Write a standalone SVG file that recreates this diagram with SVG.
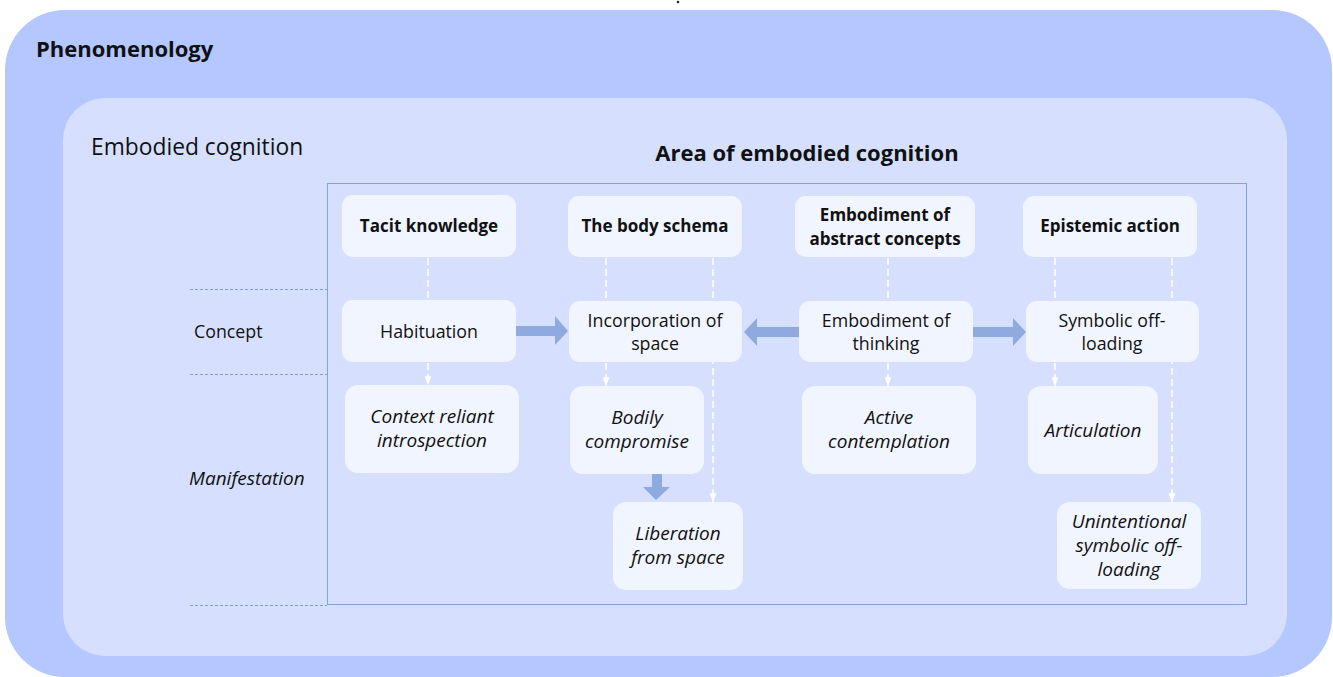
<svg xmlns="http://www.w3.org/2000/svg" width="1333" height="677" viewBox="0 0 1333 677">
  <defs>
    <style>
      .txt { font-family: "Open Sans", "Liberation Sans", sans-serif; fill: #111111; }
      .node { fill: #f1f5ff; }
      .label { font-size: 17.8px; text-anchor: middle; }
      .head { font-size: 17px; font-weight: bold; text-anchor: middle; }
      .ital { font-style: italic; font-size: 19px; }
      .dash { stroke: #ffffff; stroke-width: 1.6; stroke-dasharray: 7 4; fill: none; }
      .rowline { stroke: #7f9fdc; stroke-width: 1; stroke-dasharray: 3 2; }
      .fat { fill: #8eaadf; }
    </style>
    <marker id="tip" viewBox="0 0 10 8" refX="10" refY="4" markerWidth="9" markerHeight="7" markerUnits="userSpaceOnUse" orient="auto">
      <path d="M0,0 L10,4 L0,8 Z" fill="#ffffff"/>
    </marker>
  </defs>

  <rect width="1333" height="677" fill="#ffffff"/>
  <circle cx="678" cy="2" r="1.3" fill="#222222"/>

  <!-- nested frames -->
  <g id="phenomenology">
    <rect x="5" y="10" width="1327" height="667" rx="60" fill="#b4c7fe"/>
    <text class="txt" x="36" y="57" font-size="22" font-weight="bold">Phenomenology</text>
  </g>
  <g id="embodied-cognition">
    <rect x="63" y="98" width="1224" height="558" rx="42" fill="#d6e0fe"/>
    <text class="txt" x="91" y="155" font-size="22.8">Embodied cognition</text>
  </g>

  <!-- row dividers and row labels -->
  <g id="rows">
    <line class="rowline" x1="190" y1="289.5" x2="327" y2="289.5"/>
    <line class="rowline" x1="190" y1="374.5" x2="327" y2="374.5"/>
    <line class="rowline" x1="190" y1="605.5" x2="327" y2="605.5"/>
    <text class="txt" x="194" y="338" font-size="17.8">Concept</text>
    <text class="txt ital" x="189" y="485">Manifestation</text>
  </g>

  <g id="area">
    <rect x="327.5" y="183.5" width="919" height="421" fill="none" stroke="#84a2db" stroke-width="1"/>
    <text class="txt" x="807" y="161" font-size="22" font-weight="bold" text-anchor="middle">Area of embodied cognition</text>
  </g>

  <!-- connectors -->
  <g id="connectors">
    <line class="dash" x1="428" y1="258" x2="428" y2="300"/>
    <line class="dash" x1="428" y1="363" x2="428" y2="385" marker-end="url(#tip)"/>
    <line class="dash" x1="606" y1="258" x2="606" y2="301"/>
    <line class="dash" x1="606" y1="363" x2="606" y2="386" marker-end="url(#tip)"/>
    <line class="dash" x1="713" y1="258" x2="713" y2="502" marker-end="url(#tip)"/>
    <line class="dash" x1="888" y1="258" x2="888" y2="301"/>
    <line class="dash" x1="888" y1="363" x2="888" y2="386" marker-end="url(#tip)"/>
    <line class="dash" x1="1055" y1="258" x2="1055" y2="301"/>
    <line class="dash" x1="1055" y1="363" x2="1055" y2="386" marker-end="url(#tip)"/>
    <line class="dash" x1="1172" y1="258" x2="1172" y2="502" marker-end="url(#tip)"/>

    <polygon class="fat" points="516,326 555,326 555,316 568,331 555,345 555,336 516,336"/>
    <polygon class="fat" points="799,327 757,327 757,318 744,332 757,346 757,337 799,337"/>
    <polygon class="fat" points="973,327 1013,327 1013,318 1026,332 1013,346 1013,337 973,337"/>
    <polygon class="fat" points="652,474 662,474 662,487 670,487 656,500 643,487 652,487"/>
  </g>

  <!-- concept headers -->
  <g id="tacit-knowledge">
    <rect class="node" x="342" y="195" width="174" height="62" rx="11"/>
    <text class="txt head" x="429" y="232">Tacit knowledge</text>
  </g>
  <g id="body-schema">
    <rect class="node" x="568" y="196" width="174" height="61" rx="11"/>
    <text class="txt head" x="655" y="232">The body schema</text>
  </g>
  <g id="abstract-concepts">
    <rect class="node" x="795" y="196" width="180" height="61" rx="11"/>
    <text class="txt head" x="885" y="221">Embodiment of</text>
    <text class="txt head" x="885" y="245">abstract concepts</text>
  </g>
  <g id="epistemic-action">
    <rect class="node" x="1023" y="196" width="174" height="61" rx="11"/>
    <text class="txt head" x="1110" y="232">Epistemic action</text>
  </g>

  <!-- concepts -->
  <g id="habituation">
    <rect class="node" x="342" y="300" width="174" height="62" rx="11"/>
    <text class="txt label" x="429" y="338">Habituation</text>
  </g>
  <g id="incorporation-of-space">
    <rect class="node" x="569" y="301" width="173" height="61" rx="11"/>
    <text class="txt label" x="655" y="327">Incorporation of</text>
    <text class="txt label" x="655" y="350">space</text>
  </g>
  <g id="embodiment-of-thinking">
    <rect class="node" x="799" y="301" width="174" height="61" rx="11"/>
    <text class="txt label" x="886" y="327">Embodiment of</text>
    <text class="txt label" x="886" y="350">thinking</text>
  </g>
  <g id="symbolic-off-loading">
    <rect class="node" x="1026" y="301" width="173" height="61" rx="11"/>
    <text class="txt label" x="1112" y="327">Symbolic off-</text>
    <text class="txt label" x="1112" y="350">loading</text>
  </g>

  <!-- manifestations -->
  <g id="context-reliant-introspection">
    <rect class="node" x="345" y="385" width="174" height="88" rx="13"/>
    <text class="txt label ital" x="432" y="423">Context reliant</text>
    <text class="txt label ital" x="432" y="447">introspection</text>
  </g>
  <g id="bodily-compromise">
    <rect class="node" x="570" y="386" width="134" height="88" rx="13"/>
    <text class="txt label ital" x="637" y="424">Bodily</text>
    <text class="txt label ital" x="637" y="448">compromise</text>
  </g>
  <g id="liberation-from-space">
    <rect class="node" x="613" y="502" width="130" height="88" rx="13"/>
    <text class="txt label ital" x="678" y="540">Liberation</text>
    <text class="txt label ital" x="678" y="564">from space</text>
  </g>
  <g id="active-contemplation">
    <rect class="node" x="802" y="386" width="174" height="88" rx="13"/>
    <text class="txt label ital" x="889" y="424">Active</text>
    <text class="txt label ital" x="889" y="448">contemplation</text>
  </g>
  <g id="articulation">
    <rect class="node" x="1028" y="386" width="130" height="88" rx="13"/>
    <text class="txt label ital" x="1093" y="437">Articulation</text>
  </g>
  <g id="unintentional-symbolic-off-loading">
    <rect class="node" x="1057" y="502" width="144" height="87" rx="13"/>
    <text class="txt label ital" x="1129" y="528">Unintentional</text>
    <text class="txt label ital" x="1129" y="552">symbolic off-</text>
    <text class="txt label ital" x="1129" y="576">loading</text>
  </g>
</svg>
